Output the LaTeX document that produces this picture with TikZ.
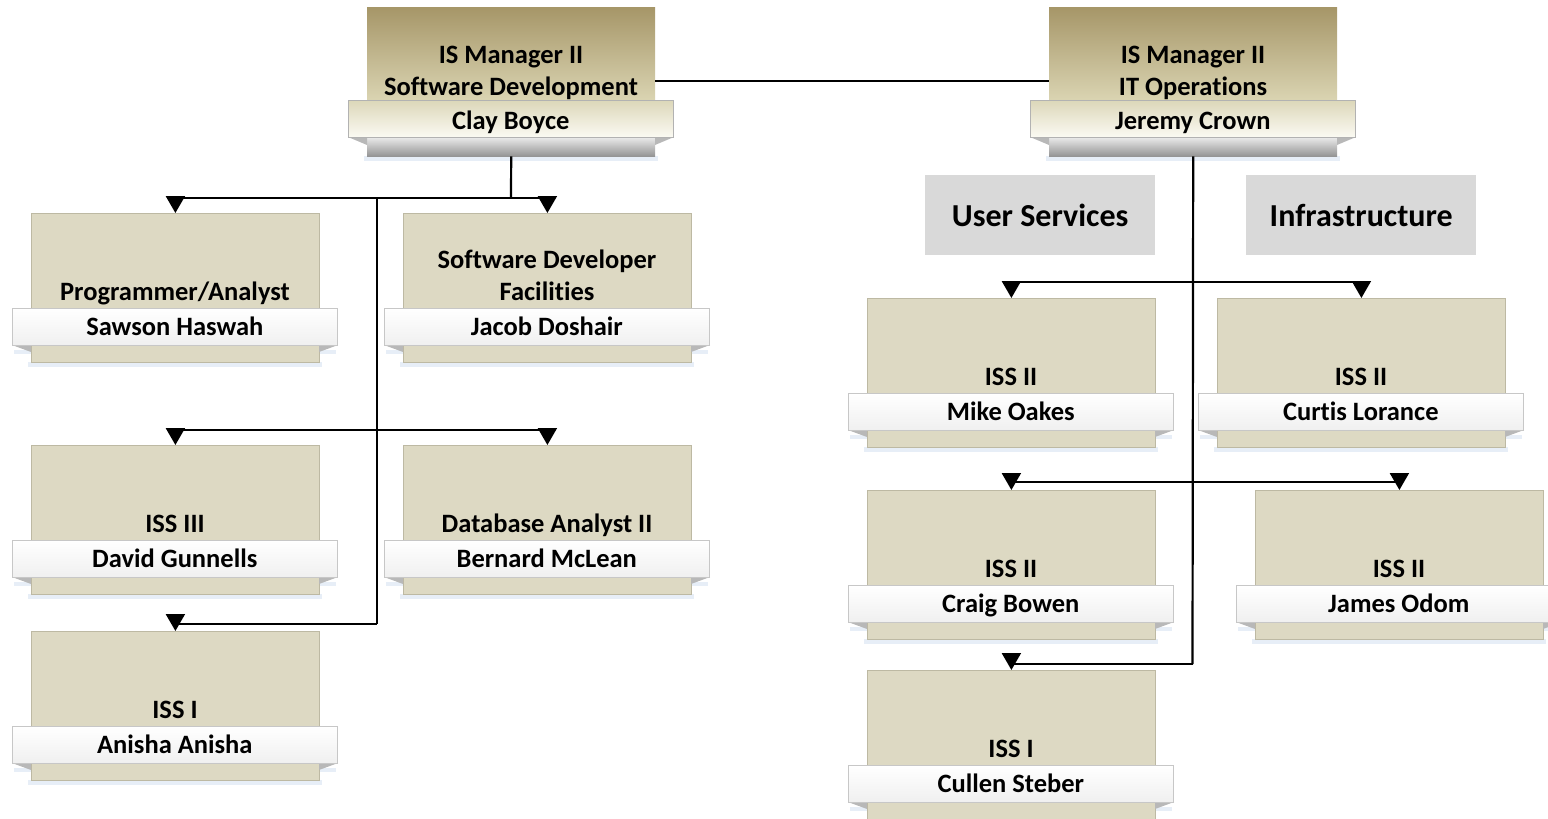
\documentclass[tikz,border=0pt]{standalone}
\usepackage{fontspec}
\setmainfont{Carlito}[Ligatures=NoCommon]
\usetikzlibrary{arrows.meta}
\definecolor{bodycol}{HTML}{DDD9C3}
\definecolor{bodyline}{HTML}{BDB9A3}
\definecolor{mgrtop}{HTML}{A69668}
\definecolor{mgrmid}{HTML}{DAD4B2}
\definecolor{bandtop}{HTML}{DCD7B9}
\definecolor{bandbot}{HTML}{FBFAF3}
\definecolor{hdrcol}{HTML}{D9D9D9}
\definecolor{glowcol}{HTML}{C9D9EE}
\newcommand\txtfont{\bfseries\fontsize{26.5}{32}\selectfont}
\tikzset{
  body/.style={fill=bodycol,draw=bodyline,line width=0.8pt,inner sep=0pt,minimum width=288pt,minimum height=149pt},
  bodybot/.style={fill=bodycol,draw=bodyline,line width=0.8pt,inner sep=0pt,minimum width=288pt,minimum height=17pt},
  band/.style={top color=white,bottom color=white!94!black,draw=white!78!black,line width=0.6pt,inner sep=0pt,minimum width=325pt,text height=27pt,text depth=10pt,font=\txtfont},
  mgrbox/.style={top color=mgrtop,bottom color=mgrmid,draw=none,inner sep=0pt,minimum width=288pt,minimum height=93pt},
  mgrband/.style={top color=bandtop,bottom color=bandbot,draw=white!70!black,line width=0.6pt,inner sep=0pt,minimum width=325pt,text height=29pt,text depth=8pt,font=\txtfont},
  mgrbot/.style={top color=white!92!black,bottom color=white!58!black,draw=none,inner sep=0pt,minimum width=288pt,minimum height=19pt},
  ttl/.style={anchor=base,inner sep=0pt,font=\txtfont},
  hdr/.style={fill=hdrcol,inner sep=0pt,minimum width=230pt,minimum height=80pt,font=\bfseries\fontsize{32}{36}\selectfont},
  flap/.style={fill=white!72!black},
  glow/.style={fill=glowcol,opacity=0.45},
  line/.style={line width=2.2pt,black},
  arr/.style={line width=2.2pt,black,-{Triangle[width=19pt,length=17pt]}},
}
\newcommand\card[6]{%
  \begin{scope}[shift={(#2,#3)}]
    \fill[glow] (-17,137) rectangle (305,141);
    \fill[glow] (-3,149) rectangle (291,154);
    \node[body,anchor=north west] (#1) at (0,0) {};
    \node[bodybot,anchor=north west] (#1-b) at (0,132) {};
    \fill[flap] (-19,132) -- (0,132) -- (0,139) -- cycle;
    \fill[flap] (307,132) -- (288,132) -- (288,139) -- cycle;
    \node[band,anchor=north west] (#1-n) at (-19,95) {#6};
    \node[ttl] (#1-t) at (144,87) {#5};
    \def\tmpa{#4}\ifx\tmpa\empty\else\node[ttl] (#1-u) at (144,55) {#4};\fi
  \end{scope}}
\newcommand\mgr[5]{%
  \begin{scope}[shift={(#2,#3)}]
    \fill[glow] (-3,149) rectangle (291,154);
    \node[mgrbox,anchor=north west] (#1) at (0,0) {};
    \node[mgrbot,anchor=north west] (#1b) at (0,130) {};
    \fill[flap] (-19,130) -- (0,130) -- (0,138) -- cycle;
    \fill[flap] (307,130) -- (288,130) -- (288,138) -- cycle;
    \node[mgrband,anchor=north west] (#1n) at (-19,93) {#5};
    \node[ttl] (#1t) at (144,88) {#4};
    \node[ttl] (#1u) at (144,56) {IS Manager II};
  \end{scope}}
\begin{document}
\begin{tikzpicture}[x=1pt,y=-1pt]
\useasboundingbox (0,0) rectangle (1548,819);
% managers
\mgr{m1}{367}{7}{Software Development}{Clay Boyce}
\mgr{m2}{1049}{7}{IT Operations}{Jeremy Crown}
% headers
\node[hdr,anchor=north west] (us) at (925,175) {User Services};
\node[hdr,anchor=north west] (inf) at (1246,175) {Infrastructure};
% left cards
\card{pa}{31}{213}{}{Programmer/Analyst}{Sawson Haswah}
\card{sd}{403}{213}{Software Developer}{Facilities}{Jacob Doshair}
\card{dg}{31}{445}{}{ISS III}{David Gunnells}
\card{bm}{403}{445}{}{Database Analyst II}{Bernard McLean}
\card{ai}{31}{631}{}{ISS I}{Anisha Anisha}
% right cards
\card{mo}{867}{298}{}{ISS II}{Mike Oakes}
\card{cl}{1217}{298}{}{ISS II}{Curtis Lorance}
\card{cb}{867}{490}{}{ISS II}{Craig Bowen}
\card{jo}{1255}{490}{}{ISS II}{James Odom}
\card{cs}{867}{670}{}{ISS I}{Cullen Steber}
% connectors
\draw[line] ([yshift=-27.5pt]m1.east) -- ([yshift=-27.5pt]m2.west);
\coordinate (j1) at (511,198);
\coordinate (t1) at (377,198);
\coordinate (t2) at (377,430);
\coordinate (t3) at (377,624);
\draw[line] (m1b.south) -- (j1);
\draw[arr] (j1) -| (pa.north);
\draw[arr] (j1) -| (sd.north);
\draw[line] (t1) -- (t3);
\draw[arr] (t2) -| (dg.north);
\draw[arr] (t2) -| (bm.north);
\draw[arr] (t3) -| (ai.north);
\coordinate (r1) at (1192.5,282);
\coordinate (r2) at (1192.5,482);
\coordinate (r3) at (1192.5,664);
\draw[line] (m2b.south) -- (r3);
\draw[arr] (r1) -| (mo.north);
\draw[arr] (r1) -| (cl.north);
\draw[arr] (r2) -| (cb.north);
\draw[arr] (r2) -| (jo.north);
\draw[arr] (r3) -| (cs.north);
\end{tikzpicture}
\end{document}
